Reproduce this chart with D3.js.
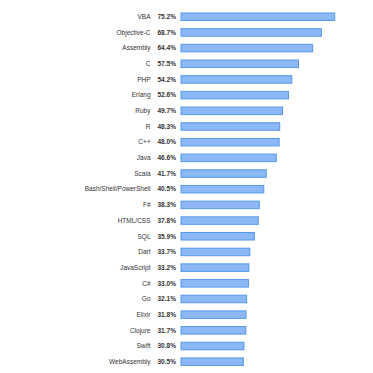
<!DOCTYPE html>
<html>
<head>
<meta charset="utf-8">
<script src="https://cdn.jsdelivr.net/npm/d3@7"></script>
<style>
  body { margin: 0; background: #fff; }
  svg { display: block; }
  text { font-family: "Liberation Sans", Arial, Helvetica, sans-serif; }
</style>
</head>
<body>
<script>
// languages, in chart order
var languages = ["VBA", "Objective-C", "Assembly", "C", "PHP", "Erlang", "Ruby", "R", "C++", "Java",
  "Scala", "Bash/Shell/PowerShell", "F#", "HTML/CSS", "SQL", "Dart", "JavaScript", "C#", "Go",
  "Elixir", "Clojure", "Swift", "WebAssembly"]

// percentage for each language
var values = [75.2, 68.7, 64.4, 57.5, 54.2, 52.6, 49.7, 48.3, 48.0, 46.6,
  41.7, 40.5, 38.3, 37.8, 35.9, 33.7, 33.2, 33.0, 32.1,
  31.8, 31.7, 30.8, 30.5]

var width = 373, height = 373

var svg = d3.select("body").append("svg")
  .attr("width", width)
  .attr("height", height)

var y = d3.scaleBand()
  .domain(languages)
  .range([8.9, 8.9 + 15.68 * languages.length])
  .paddingInner(0.52)
  .paddingOuter(0.26)

var x = d3.scaleLinear()
  .domain([0, 100])
  .range([181, 181 + 204.4])

var rows = svg.selectAll(".row")
  .data(languages)
  .enter().append("g")
  .attr("class", "row")

// bars
rows.append("rect")
  .attr("x", x(0))
  .attr("y", function(d) { return y(d) })
  .attr("width", function(d, i) { return x(values[i]) - x(0) })
  .attr("height", y.bandwidth())
  .attr("fill", "#8cb8f6")
  .attr("stroke", "#5599ee")
  .attr("stroke-width", 1)

// language names
rows.append("text")
  .attr("x", 150.5)
  .attr("y", function(d) { return y(d) + y.bandwidth() / 2 })
  .attr("dy", "0.35em")
  .attr("text-anchor", "end")
  .attr("font-size", "6.5px")
  .attr("fill", "#333")
  .text(function(d) { return d })

// percentages
rows.append("text")
  .attr("x", 157.5)
  .attr("y", function(d) { return y(d) + y.bandwidth() / 2 })
  .attr("dy", "0.35em")
  .attr("font-size", "6.5px")
  .attr("font-weight", "bold")
  .attr("fill", "#333")
  .text(function(d, i) { return values[i].toFixed(1) + "%" })
</script>
</body>
</html>
